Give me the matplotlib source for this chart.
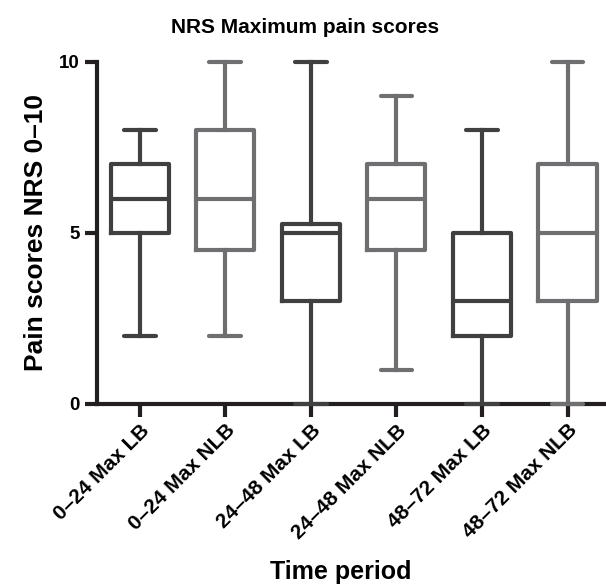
import matplotlib.pyplot as plt

plt.rcParams['font.family'] = ['Liberation Sans', 'DejaVu Sans']
plt.rcParams['font.weight'] = 'bold'

labels = ["0–24 Max LB", "0–24 Max NLB", "24–48 Max LB",
          "24–48 Max NLB", "48–72 Max LB", "48–72 Max NLB"]
mins = [2, 2, 0, 1, 0, 0]
q1s = [5, 4.5, 3, 4.5, 2, 3]
medians = [6, 6, 5, 6, 3, 5]
q3s = [7, 8, 5.25, 7, 5, 7]
maxs = [8, 10, 10, 9, 8, 10]
colors = ["#404040", "#6f6f71", "#404040", "#6f6f71", "#404040", "#6f6f71"]

fig = plt.figure(figsize=(6.06, 5.88), dpi=100)
ax = fig.add_axes([0.160, 0.313, 0.840, 0.582])

for i in range(len(labels)):
    st = dict(label=labels[i], whislo=mins[i], q1=q1s[i], med=medians[i],
              q3=q3s[i], whishi=maxs[i], fliers=[])
    c = colors[i]
    art = ax.bxp([st], positions=[i + 1], widths=0.68, showfliers=False,
                 boxprops=dict(color=c, linewidth=3.0),
                 medianprops=dict(color=c, linewidth=3.0),
                 whiskerprops=dict(color=c, linewidth=3.0),
                 capprops=dict(color=c, linewidth=3.0, solid_capstyle='round'),
                 capwidths=0.37)
    for k in art:
        for a in art[k]:
            a.set_clip_on(False)
            a.set_zorder(5)

ax.set_xlim(0.5, 6.45)
ax.set_ylim(0, 10)
ax.set_yticks([0, 5, 10])
ax.set_xticks(range(1, len(labels) + 1))
ax.set_xticklabels(labels, rotation=45, ha='right', va='top',
                   rotation_mode='anchor', fontsize=15, fontweight='bold')
ax.tick_params(axis='y', labelsize=13.5, width=3, length=9, color='#231f20')
ax.tick_params(axis='x', width=3, length=9, color='#231f20', pad=3)

for s in ['top', 'right']:
    ax.spines[s].set_visible(False)
for s in ['left', 'bottom']:
    ax.spines[s].set_linewidth(3)
    ax.spines[s].set_color('#231f20')

ax.set_title("NRS Maximum pain scores", fontsize=15, fontweight='bold',
             pad=21, x=(305 - 97) / 509)
ax.set_ylabel("Pain scores NRS 0–10", fontsize=19, fontweight='bold', va='center')
ax.yaxis.set_label_coords(-0.12, 0.5)
ax.set_xlabel("Time period", fontsize=18, fontweight='bold', va='center')
ax.xaxis.set_label_coords((341 - 97) / 509, (404 - 572) / 342)

fig.savefig("out.png", dpi=100)
